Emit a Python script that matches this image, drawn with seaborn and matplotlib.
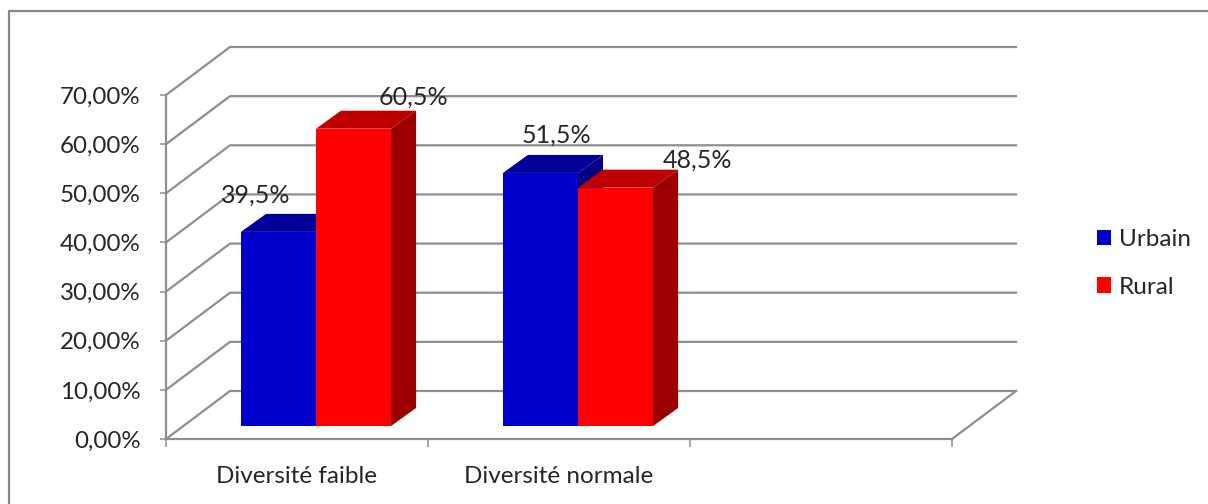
import matplotlib
matplotlib.use("Agg")
import matplotlib.pyplot as plt
from matplotlib.lines import Line2D
from matplotlib.patches import Polygon
import numpy as np
import pandas as pd
import seaborn as sns

# Chart data
categories = ["Diversité faible", "Diversité normale", " "]
series_names = ["Urbain", "Rural"]
urbain = [39.5, 51.5]
rural = [60.5, 48.5]
value_labels = {"Urbain": ["39,5%", "51,5%"], "Rural": ["60,5%", "48,5%"]}
y_ticks = [0, 10, 20, 30, 40, 50, 60, 70]

# Colours: front, top and side faces of each series
front = {"Urbain": "#0000CC", "Rural": "#FF0000"}
top = {"Urbain": "#000099", "Rural": "#BF0000"}
side = {"Urbain": "#000080", "Rural": "#9C0000"}
GRID = "#8E8E8E"
TEXT = "#262626"

W, H = 1208, 504
sns.set_theme(style="white")
plt.rcParams["font.family"] = ["Lato", "DejaVu Sans"]

fig = plt.figure(figsize=(W / 100, H / 100), dpi=100, facecolor="white")
# Front plane of the box, given in pixels from the top-left corner
L, R, T, B = 166, 952, 95, 439
ax = fig.add_axes([L / W, 1 - B / H, (R - L) / W, (B - T) / H])

df = pd.DataFrame({
    "categorie": categories[:2] * 2,
    "serie": [series_names[0]] * 2 + [series_names[1]] * 2,
    "valeur": urbain + rural,
})
sns.barplot(data=df, x="categorie", y="valeur", hue="serie",
            order=categories, hue_order=series_names, palette=front,
            saturation=1, width=0.573, gap=0, errorbar=None, ax=ax, linewidth=0)
ax.set_xlim(-0.5, 2.5)
ax.set_ylim(0, 70)

# Oblique depth of the box, in data units
PX_X = 3 / (R - L)
PX_Y = 70 / (B - T)
DX = 64 * PX_X
DY = 48 * PX_Y
BAR_SHIFT_X = 19 * PX_X
BAR_SHIFT_Y = 13 * PX_Y
BAR_DEPTH_X = 25 * PX_X
BAR_DEPTH_Y = 18 * PX_Y


def grid_line(xs, ys):
    ax.add_line(Line2D(xs, ys, color=GRID, lw=1.6, clip_on=False, zorder=1,
                       solid_capstyle="projecting"))


# Back wall, side wall and floor edge
for v in y_ticks:
    grid_line([-0.5, -0.5 + DX, 2.5 + DX], [v, v + DY, v + DY])
grid_line([2.5, 2.5 + DX], [0, DY])

# Extruded bars with their value labels; offsets are pixels from the bar top centre
label_offsets = {"Urbain": [(-23, 37), (16, 38)], "Rural": [(60, 32), (82, 28)]}
for order, (name, container) in enumerate(zip(series_names, ax.containers)):
    for i, bar in enumerate(container):
        x0 = bar.get_x() + BAR_SHIFT_X
        w = bar.get_width()
        h = bar.get_height()
        y0 = BAR_SHIFT_Y
        bar.set_x(x0)
        bar.set_y(y0)
        bar.set_clip_on(False)
        z = 3 + order * 2
        bar.set_zorder(z + 1)
        x1 = x0 + w
        ddx, ddy = BAR_DEPTH_X, BAR_DEPTH_Y
        ax.add_patch(Polygon([(x0, y0 + h), (x1, y0 + h), (x1 + ddx, y0 + h + ddy),
                              (x0 + ddx, y0 + h + ddy)], closed=True, fc=top[name],
                             ec="none", clip_on=False, zorder=z))
        ax.add_patch(Polygon([(x1, y0), (x1 + ddx, y0 + ddy), (x1 + ddx, y0 + h + ddy),
                              (x1, y0 + h)], closed=True, fc=side[name],
                             ec="none", clip_on=False, zorder=z))
        off = label_offsets[name][i]
        ax.annotate(value_labels[name][i], xy=(x0 + w / 2, y0 + h),
                    xytext=(off[0] * 0.72, off[1] * 0.72), textcoords="offset points",
                    ha="center", va="center", fontsize=18, color=TEXT, zorder=20)

# Axes
sns.despine(ax=ax, top=True, right=True)
for s in ("left", "bottom"):
    ax.spines[s].set_color(GRID)
    ax.spines[s].set_linewidth(1.6)
ax.set_xlabel("")
ax.set_ylabel("")
ax.set_yticks(y_ticks)
ax.set_yticklabels([f"{v},00%" for v in y_ticks], fontsize=17.4, color=TEXT)
ax.set_xticks([0, 1, 2])
ax.set_xticklabels(categories, fontsize=17.5, color=TEXT)
ax.set_xticks([-0.5, 0.5, 1.5, 2.5], minor=True)
ax.tick_params(axis="y", which="major", left=True, length=4.5, width=1.1, color=GRID, pad=19 * 0.72)
ax.tick_params(axis="x", which="major", bottom=False, pad=19 * 0.72)
ax.tick_params(axis="x", which="minor", bottom=True, length=6, width=1.1, color=GRID)

# Legend
sns.move_legend(ax, "upper left", bbox_to_anchor=(1075 / W, 1 - 207 / H),
                bbox_transform=fig.transFigure, frameon=False, title=None,
                fontsize=17.5, handlelength=0.58, handleheight=0.58,
                handletextpad=0.33, labelspacing=1.1, labelcolor=TEXT)

# Chart area frame
fig.add_artist(Line2D([8.5 / W, 8.5 / W, 1], [0, 1 - 10.5 / H, 1 - 10.5 / H],
                      color="#868686", lw=1.6, transform=fig.transFigure))

fig.savefig("out.png", dpi=100, facecolor="white")
